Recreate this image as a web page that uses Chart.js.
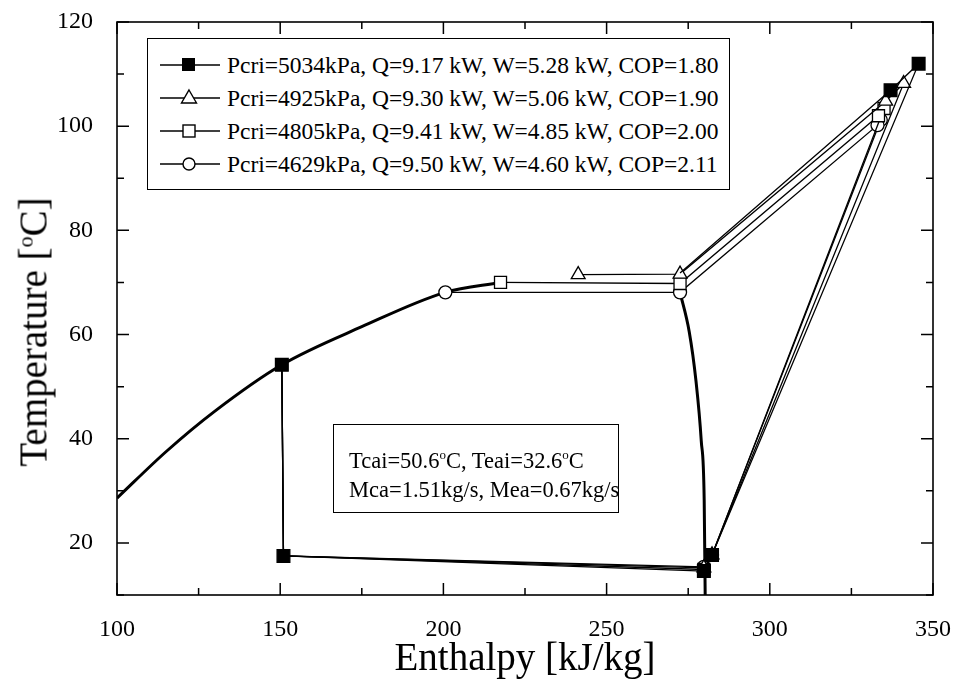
<!DOCTYPE html>
<html>
<head>
<meta charset="utf-8">
<script src="https://cdn.jsdelivr.net/npm/chart.js@4.4.0/dist/chart.umd.min.js"></script>
<style>
    body { margin: 0; background: #fff; }
    #wrap { position: relative; width: 954px; height: 687px; }
    .box { position: absolute; background: #fff; border: 1.5px solid #000; font-family: "Liberation Serif", serif; color: #000; }
    #legend { left: 147px; top: 38px; width: 581px; height: 150px; }
    #legend .row { position: absolute; left: 10px; height: 26px; display: flex; align-items: center; font-size: 23.5px; white-space: nowrap; }
    #legend svg { margin-right: 5px; }
    #note { left: 333px; top: 424px; width: 284px; height: 87px; font-size: 22.5px; }
    #note div { position: absolute; left: 15px; white-space: nowrap; }
    #ytitle { position: absolute; left: 33px; top: 332px; transform: translate(-50%, -50%) rotate(-90deg); font-family: "Liberation Serif", serif; font-size: 39px; white-space: nowrap; color: #000; }
</style>
</head>
<body>
<div id="wrap">
    <canvas id="chart" width="954" height="687"></canvas>
    <div id="ytitle">Temperature [<sup style="font-size:22px">o</sup>C]</div>
    <div id="legend" class="box"></div>
    <div id="note" class="box">
        <div style="top:22px">Tcai=50.6<sup style="font-size:13px">o</sup>C, Teai=32.6<sup style="font-size:13px">o</sup>C</div>
        <div style="top:52px">Mca=1.51kg/s, Mea=0.67kg/s</div>
    </div>
</div>
<script>
// axis ticks
var ticksX = [100, 150, 200, 250, 300, 350];
var ticksY = [20, 40, 60, 80, 100, 120];

var labels = ['Pcri=5034kPa, Q=9.17 kW, W=5.28 kW, COP=1.80',
    'Pcri=4925kPa, Q=9.30 kW, W=5.06 kW, COP=1.90',
    'Pcri=4805kPa, Q=9.41 kW, W=4.85 kW, COP=2.00',
    'Pcri=4629kPa, Q=9.50 kW, W=4.60 kW, COP=2.11'];

// cycle points, enthalpy [kJ/kg] and temperature [C]
var h5034 = [150.5, 151, 279.8, 282.3, 345.6, 337, 272.5];
var t5034 = [54.2, 17.5, 14.6, 17.7, 112, 106.9, 71.8];
var h4925 = [150.5, 151, 279.8, 282.3, 341, 335.5, 272.5, 241.3];
var t4925 = [54.2, 17.5, 15.2, 17.7, 108.2, 104.8, 71.6, 71.5];
var h4805 = [150.5, 151, 279.8, 282.3, 335, 333.3, 272.5, 217.5];
var t4805 = [54.2, 17.5, 14.9, 17.7, 103.4, 102, 69.8, 70];
var h4629 = [150.5, 151, 279.8, 282.3, 334, 333, 272.5, 200.6];
var t4629 = [54.2, 17.5, 15.4, 17.7, 101.2, 100.2, 68.1, 68.1];

// saturation lines
var liqH = [100, 115, 130, 150.5, 175, 200.6, 217.5];
var liqT = [28.6, 37.5, 45.3, 54.2, 61.5, 68.1, 70];
var vapH = [272.5, 275.3, 277.4, 279, 279.9, 280.2];
var vapT = [68.1, 60.6, 51, 39.6, 28.2, 10];

function pts(h, t) {
    return h.map(function (v, i) { return {x: v, y: t[i]}; });
}

var styles = [
    {pointStyle: 'rect', radius: 9, fill: '#000'},
    {pointStyle: 'triangle', radius: 8, fill: '#fff'},
    {pointStyle: 'rect', radius: 8.5, fill: '#fff'},
    {pointStyle: 'circle', radius: 6.5, fill: '#fff'}
];
var cycles = [pts(h5034, t5034), pts(h4925, t4925), pts(h4805, t4805), pts(h4629, t4629)];

var datasets = cycles.map(function (d, k) {
    return {
        label: labels[k],
        data: d,
        showLine: true,
        borderColor: '#000',
        borderWidth: 1.3,
        pointStyle: styles[k].pointStyle,
        pointBackgroundColor: styles[k].fill,
        pointBorderColor: '#000',
        pointBorderWidth: 1.3,
        pointRadius: function (ctx) {
            var i = ctx.dataIndex;
            if (k === 0 && i === ctx.dataset.data.length - 1) return 0;
            if (k > 0 && (i === 0 || i === 1)) return 0;
            return styles[k].radius;
        }
    };
});
datasets.push({label: 'liq', data: pts(liqH, liqT), showLine: true, borderColor: '#000', borderWidth: 3, pointRadius: 0, cubicInterpolationMode: 'monotone'});
datasets.push({label: 'vap', data: pts(vapH, vapT), showLine: true, borderColor: '#000', borderWidth: 3, pointRadius: 0, cubicInterpolationMode: 'monotone'});

// frame and inward ticks on all four sides
var framePlugin = {
    id: 'frame',
    beforeDatasetsDraw: function (chart) {
        var c = chart.ctx, a = chart.chartArea;
        var sx = chart.scales.x, sy = chart.scales.y;
        c.save();
        c.strokeStyle = '#000';
        c.lineWidth = 1.6;
        c.strokeRect(a.left, a.top, a.right - a.left, a.bottom - a.top);
        c.lineWidth = 1.5;
        c.beginPath();
        for (var v = 100; v <= 350; v += 25) {
            var px = sx.getPixelForValue(v);
            var len = (v % 50 === 0) ? 12 : 7;
            c.moveTo(px, a.bottom); c.lineTo(px, a.bottom - len);
            c.moveTo(px, a.top); c.lineTo(px, a.top + len);
        }
        for (var w = 10; w <= 120; w += 10) {
            var py = sy.getPixelForValue(w);
            var l2 = (w % 20 === 0) ? 12 : 7;
            c.moveTo(a.left, py); c.lineTo(a.left + l2, py);
            c.moveTo(a.right, py); c.lineTo(a.right - l2, py);
        }
        c.stroke();
        c.restore();
    }
};

var serif = '"Liberation Serif", "Times New Roman", serif';

new Chart(document.getElementById('chart'), {
    type: 'scatter',
    data: {datasets: datasets},
    options: {
        responsive: false,
        animation: false,
        layout: {padding: {top: 22, right: 21, left: 0, bottom: 0}},
        plugins: {legend: {display: false}, tooltip: {enabled: false}},
        scales: {
            x: {
                min: 100, max: 350,
                afterBuildTicks: function (s) { s.ticks = ticksX.map(function (v) { return {value: v}; }); },
                afterFit: function (s) { s.height = 92; s.paddingLeft = 0; s.paddingRight = 0; },
                grid: {display: false},
                border: {display: false},
                ticks: {color: '#000', padding: 12, maxRotation: 0, font: {family: serif, size: 24}},
                title: {display: true, text: 'Enthalpy [kJ/kg]', color: '#000', font: {family: serif, size: 39}, padding: {top: 0, bottom: 4}}
            },
            y: {
                min: 10, max: 120,
                afterBuildTicks: function (s) { s.ticks = ticksY.map(function (v) { return {value: v}; }); },
                afterFit: function (s) { s.width = 117; s.paddingTop = 0; s.paddingBottom = 0; },
                grid: {display: false},
                border: {display: false},
                ticks: {color: '#000', padding: 16, font: {family: serif, size: 24}}
            }
        }
    },
    plugins: [framePlugin]
});

// legend inside the plot
var legend = document.getElementById('legend');
labels.forEach(function (txt, k) {
    var m;
    if (k === 0) m = '<rect x="24" y="6" width="13" height="13" fill="#000"/>';
    else if (k === 1) m = '<polygon points="31,5 38.5,18 23.5,18" fill="#fff" stroke="#000" stroke-width="1.4"/>';
    else if (k === 2) m = '<rect x="25" y="7" width="12" height="12" fill="#fff" stroke="#000" stroke-width="1.4"/>';
    else m = '<circle cx="31" cy="13" r="6" fill="#fff" stroke="#000" stroke-width="1.4"/>';
    var row = document.createElement('div');
    row.className = 'row';
    row.style.top = (13 + k * 33) + 'px';
    row.innerHTML = '<svg width="64" height="26"><line x1="2" y1="13" x2="62" y2="13" stroke="#000" stroke-width="1.3"/>' + m + '</svg>' + txt;
    legend.appendChild(row);
});
</script>
</body>
</html>
